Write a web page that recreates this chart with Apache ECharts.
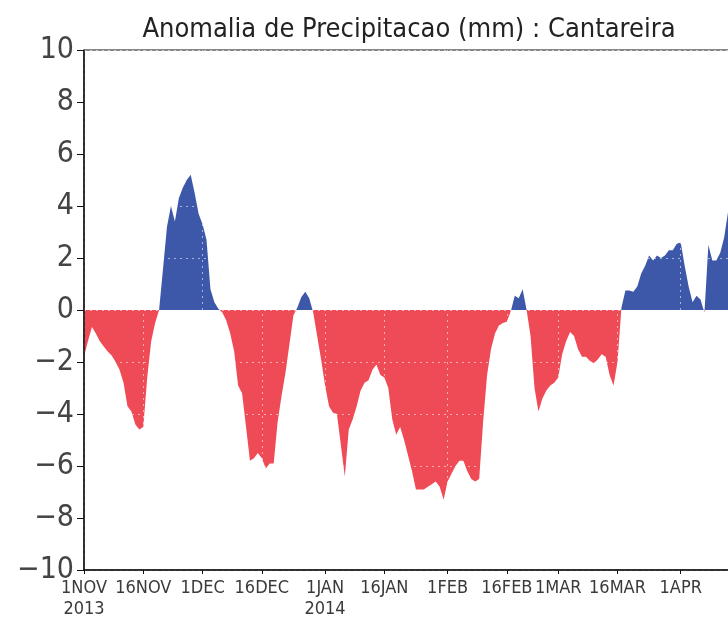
<!DOCTYPE html>
<html>
<head>
<meta charset="utf-8">
<script src="https://cdn.jsdelivr.net/npm/echarts@6/dist/echarts.min.js"></script>
<style>
  html, body { margin: 0; padding: 0; background: #ffffff; }
  #chart { width: 728px; height: 617px; }
</style>
</head>
<body>
<div id="chart"></div>
<script>
// Daily precipitation anomaly (mm), Cantareira, starting 1 Nov 2013
const novValues = [-1.8, -1.2, -0.65, -0.9, -1.2, -1.4, -1.6, -1.75, -2.0, -2.3,
  -2.8, -3.7, -3.9, -4.4, -4.6, -4.5, -2.6, -1.2, -0.5, 0.0,
  1.6, 3.2, 4.0, 3.4, 4.3, 4.7, 5.0, 5.2, 4.5, 3.7];
const decValues = [3.3, 2.7, 0.8, 0.3, 0.05, -0.1, -0.4, -0.9, -1.6, -2.9,
  -3.2, -4.5, -5.8, -5.7, -5.5, -5.7, -6.1, -5.9, -5.9, -4.3,
  -3.3, -2.4, -1.3, -0.2, 0.1, 0.5, 0.7, 0.45, -0.1, -1.0, -1.9];
const janValues = [-2.9, -3.7, -3.95, -4.0, -5.2, -6.4, -4.6, -4.2, -3.7, -3.1,
  -2.8, -2.7, -2.3, -2.1, -2.5, -2.6, -3.0, -4.2, -4.8, -4.5,
  -5.0, -5.6, -6.2, -6.9, -6.9, -6.9, -6.8, -6.7, -6.6, -6.8, -7.3];
const febValues = [-6.6, -6.3, -6.0, -5.8, -5.8, -6.2, -6.5, -6.6, -6.5, -4.3,
  -2.5, -1.5, -0.9, -0.6, -0.5, -0.45, -0.05, 0.55, 0.45, 0.8,
  0.0, -1.0, -3.0, -3.9, -3.4, -3.1, -2.9, -2.8];
const marValues = [-2.6, -1.7, -1.2, -0.85, -1.0, -1.5, -1.8, -1.8, -1.95, -2.05,
  -1.9, -1.7, -1.8, -2.5, -2.9, -2.0, 0.1, 0.75, 0.75, 0.7,
  0.9, 1.4, 1.7, 2.1, 1.9, 2.1, 2.0, 2.1, 2.3, 2.3, 2.55];
const aprValues = [2.6, 1.7, 0.9, 0.3, 0.55, 0.4, -0.1, 2.5, 1.9, 1.9,
  2.2, 2.8, 3.8, 4.3];

// Tick positions (days since 1 Nov 2013) and their labels
const tickDays = [0, 15, 30, 45, 61, 76, 92, 107, 120, 135, 151];
const tickLabels = ['1NOV\n2013', '16NOV', '1DEC', '16DEC', '1JAN\n2014', '16JAN',
  '1FEB', '16FEB', '1MAR', '16MAR', '1APR'];

const anomaly = [].concat(novValues, decValues, janValues, febValues, marValues, aprValues);
const seriesData = anomaly.map((v, i) => [i, v]);

const FONT = "'Liberation Sans Narrow', 'DejaVu Sans Condensed', 'Liberation Sans', sans-serif";
const BLUE = '#3d58a8';
const RED = '#ef4b56';

// Plot box in pixels; the time axis runs on past the right edge of the canvas
const GRID_LEFT = 84;
const GRID_TOP = 50;
const GRID_BOTTOM = 47;
const GRID_RIGHT = -12;
const CHART_H = 617;
const plotBottomY = CHART_H - GRID_BOTTOM;
const zeroY = (GRID_TOP + plotBottomY) / 2;
const zeroStop = (zeroY - GRID_TOP) / (plotBottomY - GRID_TOP);

const chart = echarts.init(document.getElementById('chart'), null, { renderer: 'canvas' });

chart.setOption({
  backgroundColor: '#ffffff',
  animation: false,
  title: {
    text: 'Anomalia de Precipitacao (mm) : Cantareira',
    left: 404,
    textAlign: 'center',
    top: 11,
    textStyle: { fontFamily: FONT, fontSize: 27, fontWeight: 'normal', color: '#222' }
  },
  grid: {
    left: GRID_LEFT, top: GRID_TOP, bottom: GRID_BOTTOM, right: GRID_RIGHT,
    outerBoundsMode: 'none',
    containLabel: false,
    show: true, borderColor: '#111', borderWidth: 1, backgroundColor: 'transparent'
  },
  xAxis: {
    type: 'value',
    min: 0,
    max: 166,
    z: 5,
    axisLine: { show: true, onZero: false, lineStyle: { color: '#111', width: 1.5 } },
    axisTick: { show: true, length: 4, inside: false, customValues: tickDays, lineStyle: { color: '#111' } },
    axisLabel: {
      customValues: tickDays,
      margin: 8,
      fontFamily: FONT,
      fontSize: 18,
      lineHeight: 21,
      color: '#3a3a3a',
      formatter: function (v) {
        const k = tickDays.indexOf(Math.round(v));
        return k >= 0 ? tickLabels[k] : '';
      }
    },
    splitLine: {
      show: true,
      lineStyle: { color: 'rgba(255,255,255,0.55)', type: [2, 4], width: 1 }
    }
  },
  yAxis: {
    type: 'value',
    min: -10,
    max: 10,
    interval: 2,
    z: 5,
    axisLine: { show: true, lineStyle: { color: '#111', width: 1.5 } },
    axisTick: { show: true, length: 7, inside: false, lineStyle: { color: '#111' } },
    axisLabel: {
      margin: 10,
      fontFamily: FONT,
      fontSize: 30,
      color: '#444',
      formatter: function (v) {
        return v < 0 ? '\u2212' + Math.abs(v) : String(v);
      }
    },
    splitLine: {
      show: true,
      lineStyle: { color: 'rgba(255,255,255,0.55)', type: [2, 4], width: 1 }
    }
  },
  series: [{
    type: 'line',
    data: seriesData,
    symbol: 'none',
    smooth: false,
    lineStyle: { width: 0 },
    areaStyle: {
      opacity: 1,
      origin: 0,
      color: {
        type: 'linear', global: true,
        x: 0, y: GRID_TOP, x2: 0, y2: plotBottomY,
        colorStops: [
          { offset: 0, color: BLUE },
          { offset: zeroStop, color: BLUE },
          { offset: zeroStop, color: RED },
          { offset: 1, color: RED }
        ]
      }
    },
    z: 2
  }]
});
</script>
</body>
</html>
